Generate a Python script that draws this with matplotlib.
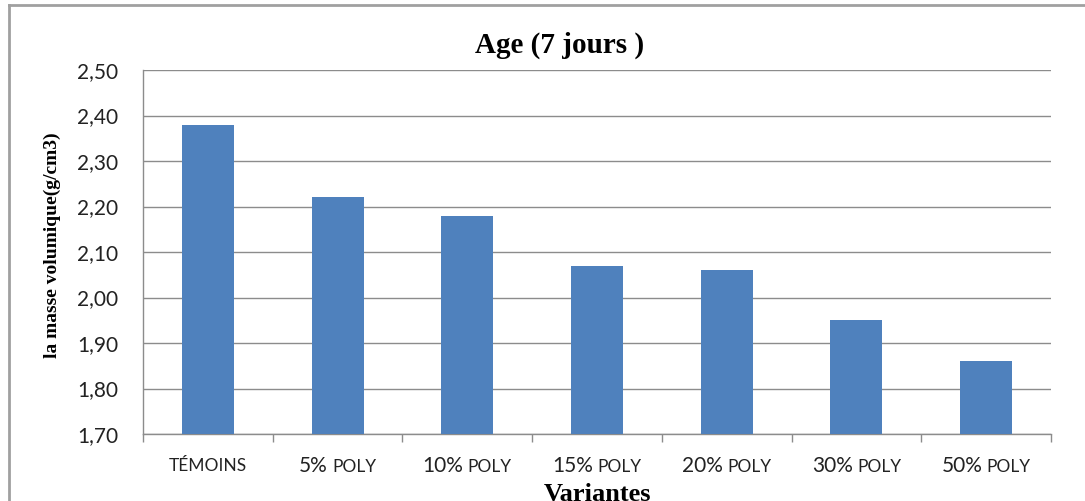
import numpy as np
import matplotlib
matplotlib.use('Agg')
import matplotlib.pyplot as plt
from matplotlib.offsetbox import TextArea, HPacker, AnnotationBbox
from matplotlib.lines import Line2D
from matplotlib.ticker import FuncFormatter

# masse volumique a 7 jours pour chaque variante
variantes = ['TÉMOINS', '5% POLY', '10% POLY', '15% POLY', '20% POLY', '30% POLY', '50% POLY']
masse = [2.38, 2.22, 2.18, 2.07, 2.06, 1.95, 1.86]

bleu = '#4F81BD'
gris = '#8C8C8C'
police = 'Lato'

fig = plt.figure(figsize=(10.85, 5.01), dpi=100)
ax = fig.add_axes([143 / 1085, 1 - 434 / 501, (1051 - 143) / 1085, (434 - 70) / 501])

x = np.arange(len(variantes))
ax.bar(x, masse, width=0.4, color=bleu, zorder=3)

ax.set_ylim(1.70, 2.50)
ax.set_yticks(np.arange(1.70, 2.501, 0.10))
ax.yaxis.set_major_formatter(FuncFormatter(lambda v, p: f'{v:.2f}'.replace('.', ',')))
ax.tick_params(axis='y', length=0, pad=18, labelsize=15, labelcolor='#222222')
for lab in ax.get_yticklabels():
    lab.set_family(police)

ax.set_xlim(-0.5, len(variantes) - 0.5)
ax.set_xticks(x)
ax.set_xticklabels([])
ax.tick_params(axis='x', which='major', length=0)
ax.set_xticks(np.arange(-0.5, len(variantes)), minor=True)
ax.tick_params(axis='x', which='minor', length=6, color=gris, width=1)

ax.yaxis.grid(True, color=gris, linewidth=1, zorder=0)
ax.set_axisbelow(True)
for s in ['top', 'right']:
    ax.spines[s].set_visible(False)
for s in ['left', 'bottom']:
    ax.spines[s].set_color(gris)
    ax.spines[s].set_linewidth(1)

# etiquettes de categories en petites capitales
for i, nom in enumerate(variantes):
    morceaux = nom.split(' ')
    zones = []
    if len(morceaux) == 1:
        zones.append(TextArea(morceaux[0], textprops=dict(fontsize=12.5, family=police, color='#222222')))
    else:
        zones.append(TextArea(morceaux[0], textprops=dict(fontsize=15, family=police, color='#222222')))
        zones.append(TextArea(morceaux[1], textprops=dict(fontsize=12.5, family=police, color='#222222')))
    boite = HPacker(children=zones, align='baseline', pad=0, sep=3)
    ab = AnnotationBbox(boite, (i, 0), xycoords=('data', 'axes fraction'),
                        xybox=(0, -32), boxcoords='offset pixels',
                        frameon=False, box_alignment=(0.5, 0.5))
    ax.add_artist(ab)

fig.text(560 / 1085, 1 - 45 / 501, 'Age (7 jours )', ha='center', va='center',
         family='Liberation Serif', weight='bold', fontsize=21)
fig.text(52 / 1085, 1 - 245 / 501, 'la masse volumique(g/cm3)', ha='center', va='center',
         rotation=90, family='Liberation Serif', weight='bold', fontsize=14)
fig.text(597 / 1085, 1 - 483 / 501, 'Variantes', ha='center', va='top',
         family='Liberation Serif', weight='bold', fontsize=19)

# cadre du graphique
fig.add_artist(Line2D([9 / 1085, 9 / 1085], [0, 1 - 5 / 501], transform=fig.transFigure,
                      color='#A0A0A0', linewidth=2))
fig.add_artist(Line2D([9 / 1085, 1], [1 - 5 / 501, 1 - 5 / 501], transform=fig.transFigure,
                      color='#A0A0A0', linewidth=2))

fig.savefig('out.png', dpi=100)
